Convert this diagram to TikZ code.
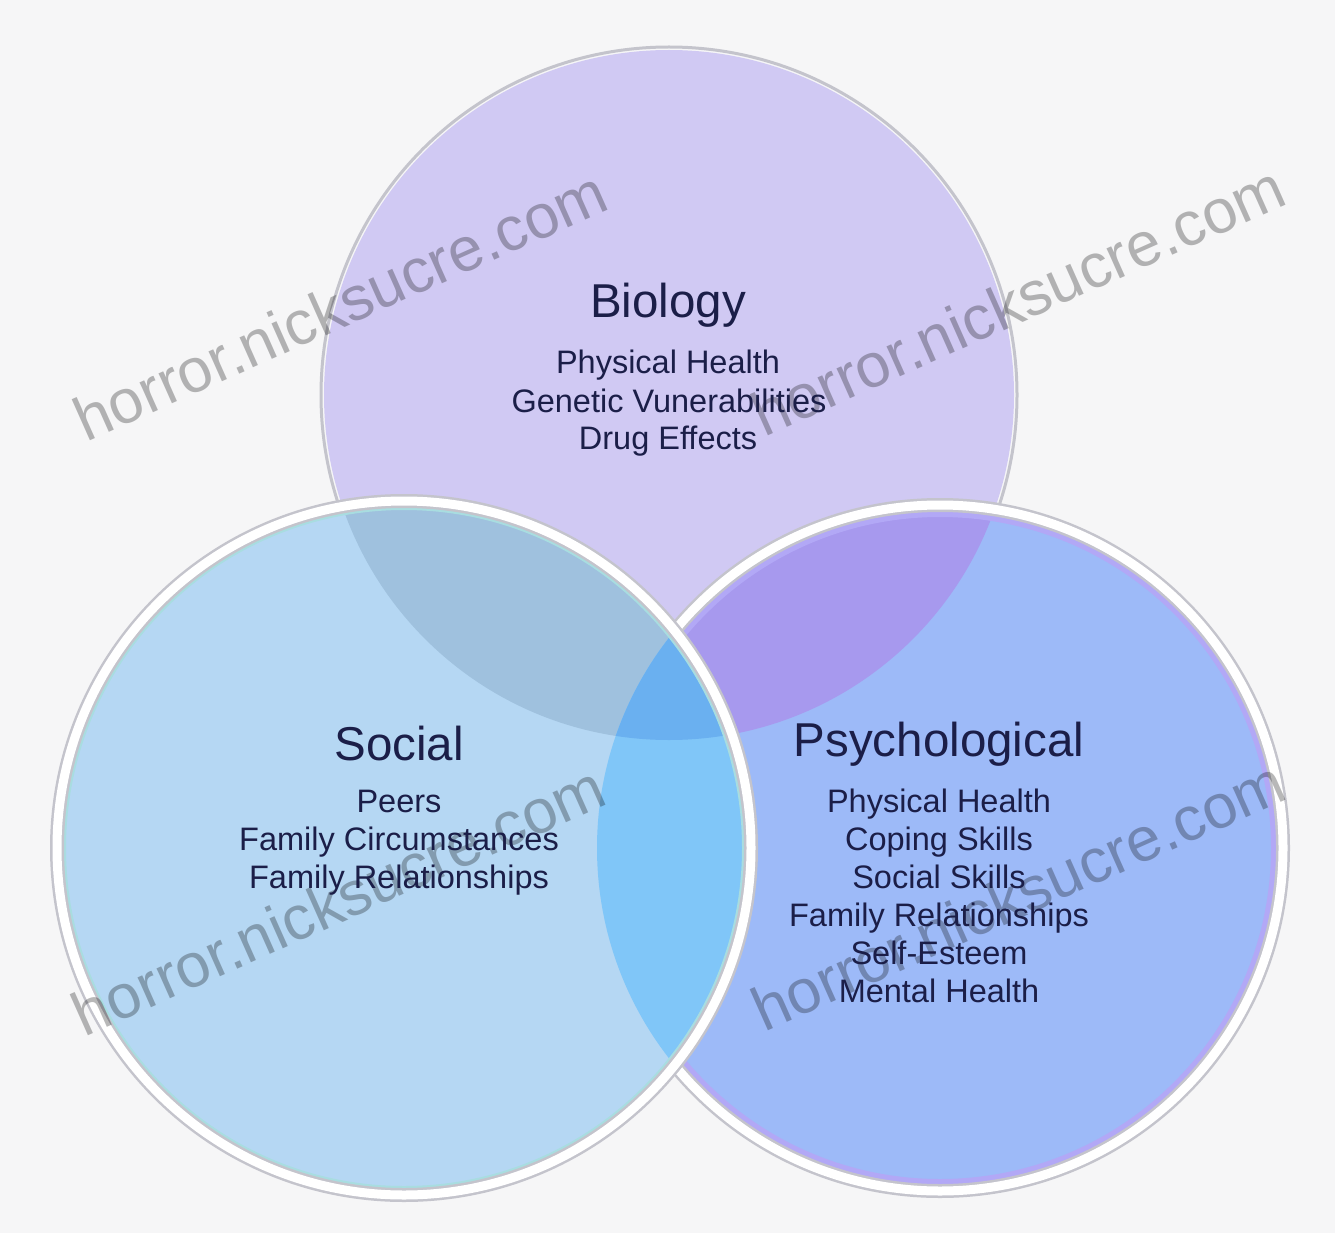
\documentclass[tikz,border=0pt]{standalone}
\usepackage{fontspec}
\setmainfont{Liberation Sans}
\definecolor{bgc}{HTML}{F6F6F7}
\definecolor{bioc}{HTML}{D0C9F3}
\definecolor{socc}{HTML}{B5D7F3}
\definecolor{psyc}{HTML}{9DBAF8}
\definecolor{biosoc}{HTML}{9FC1DE}
\definecolor{biopsy}{HTML}{A799EE}
\definecolor{socpsy}{HTML}{80C6F8}
\definecolor{allc}{HTML}{6AB0F0}
\definecolor{txt}{HTML}{1B1E48}
\definecolor{rimg}{HTML}{C4C4CC}
\definecolor{psyrim}{HTML}{B2A8F6}
\definecolor{socrim}{HTML}{A8DDE0}
\begin{document}
\begin{tikzpicture}[x=1pt,y=-1pt,
  title/.style={font=\fontsize{47.5}{52}\selectfont, text=txt, inner sep=0pt},
  item/.style={font=\fontsize{32.5}{38}\selectfont, text=txt, inner sep=0pt, text height=23pt, text depth=7pt},
  wmark/.style={font=\fontsize{62}{70}\selectfont, text=black, text opacity=0.28, rotate=24, inner sep=0pt},
  rimshadow/.style={draw=rimg, line width=14pt},
  rimwhite/.style={draw=white, line width=9pt}]
\useasboundingbox (0,0) rectangle (1335,1233);
\fill[bgc] (0,0) rectangle (1335,1233);
\coordinate (cB) at (669,395);
\coordinate (cS) at (404,848);
\coordinate (cP) at (940,848);
% Biology circle
\fill[bioc] (cB) circle[radius=345pt];
\draw[rimg, line width=3pt] (cB) circle[radius=348pt];
% Psychological circle
\fill[psyc] (cP) circle[radius=343pt];
\begin{scope}
  \clip (cP) circle[radius=343pt];
  \fill[biopsy] (cB) circle[radius=345pt];
  \draw[psyrim, line width=10pt] (cP) circle[radius=336pt];
\end{scope}
\draw[rimshadow] (cP) circle[radius=343pt];
\draw[rimwhite] (cP) circle[radius=343pt];
% Social circle
\fill[socc] (cS) circle[radius=347pt];
\begin{scope}
  \clip (cS) circle[radius=347pt];
  \fill[biosoc] (cB) circle[radius=345pt];
  \fill[socpsy] (cP) circle[radius=343pt];
  \begin{scope}
    \clip (cP) circle[radius=343pt];
    \fill[allc] (cB) circle[radius=345pt];
  \end{scope}
  \draw[socrim, line width=8pt] (cS) circle[radius=342pt];
\end{scope}
\draw[rimshadow] (cS) circle[radius=347pt];
\draw[rimwhite] (cS) circle[radius=347pt];
% watermarks
\node[wmark] (wm1) at (340,305) {horror.nicksucre.com};
\node[wmark] (wm2) at (1018,300) {horror.nicksucre.com};
\node[wmark] (wm3) at (338,900) {horror.nicksucre.com};
\node[wmark] (wm4) at (1018,895) {horror.nicksucre.com};
% Biology text
\node[title] (tbio) at (668,305) {Biology};
\node[item] (b1) at (668,365) {Physical Health};
\node[item] (b2) at (669,404) {Genetic Vunerabilities};
\node[item] (b3) at (668,441) {Drug Effects};
% Social text
\node[title] (tsoc) at (399,744) {Social};
\node[item] (s1) at (399,804) {Peers};
\node[item] (s2) at (399,842) {Family Circumstances};
\node[item] (s3) at (399,880) {Family Relationships};
% Psychological text
\node[title] (tpsy) at (939,744) {Psychological};
\node[item] (p1) at (939,804) {Physical Health};
\node[item] (p2) at (939,842) {Coping Skills};
\node[item] (p3) at (939,880) {Social Skills};
\node[item] (p4) at (939,918) {Family Relationships};
\node[item] (p5) at (939,956) {Self-Esteem};
\node[item] (p6) at (939,994) {Mental Health};
\end{tikzpicture}
\end{document}
